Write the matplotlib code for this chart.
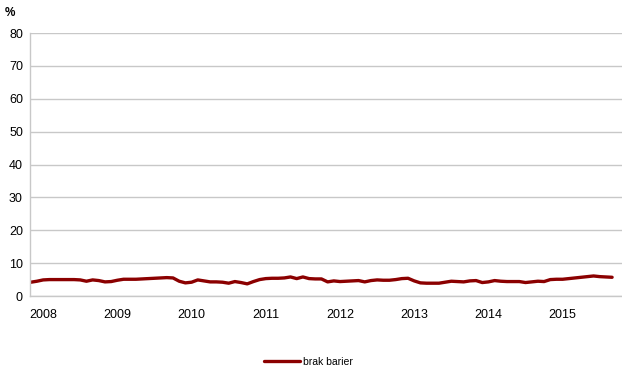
import numpy as np
import matplotlib
matplotlib.use("Agg")
import matplotlib.pyplot as plt

plt.rcParams['font.family'] = ['Liberation Sans', 'DejaVu Sans']

# monthly values
brak_barier = [4.2, 4.5, 4.9, 5.0, 5.0, 5.0, 5.0, 5.0, 4.9, 4.5, 4.9, 4.7,
               4.3, 4.4, 4.8, 5.1, 5.1, 5.1, 5.2, 5.3, 5.4, 5.5, 5.6, 5.5,
               4.5, 4.0, 4.2, 4.9, 4.6, 4.3, 4.3, 4.2, 3.9, 4.4, 4.1, 3.7,
               4.4, 5.0, 5.3, 5.4, 5.4, 5.5, 5.8, 5.3, 5.8, 5.3, 5.2, 5.2,
               4.3, 4.6, 4.4, 4.5, 4.6, 4.7, 4.3, 4.7, 4.9, 4.8, 4.8, 5.0,
               5.3, 5.4, 4.6, 4.0, 3.9, 3.9, 3.9, 4.2, 4.5, 4.4, 4.3, 4.6,
               4.7, 4.1, 4.3, 4.7, 4.5, 4.4, 4.4, 4.4, 4.1, 4.3, 4.5, 4.4,
               5.0, 5.1, 5.1, 5.3, 5.5, 5.7, 5.9, 6.1, 5.9, 5.8, 5.7]
year_labels = ['2008', '2009', '2010', '2011', '2012', '2013', '2014', '2015']
year_pos = [2 + 12 * k for k in range(len(year_labels))]
y_ticks = [0, 10, 20, 30, 40, 50, 60, 70, 80]

fig = plt.figure(figsize=(6.22, 3.8), dpi=100)
ax = fig.add_axes([0.048, 0.221, 0.952, 0.692])

x = np.arange(len(brak_barier))
ax.plot(x, brak_barier, color='#8b0000', linewidth=2.4, label='brak barier',
        solid_capstyle='round')

ax.set_ylim(0, 80)
ax.set_xlim(-0.15, 95.6)
ax.set_yticks(y_ticks)
ax.set_xticks(year_pos)
ax.set_xticklabels(year_labels)
ax.yaxis.grid(True, color='#c8c8c8', linewidth=1)
ax.set_axisbelow(True)
ax.tick_params(length=0, labelsize=9, colors='black')
ax.tick_params(axis='y', pad=5)
ax.tick_params(axis='x', pad=9)
for s in ['top', 'right']:
    ax.spines[s].set_visible(False)
for s in ['left', 'bottom']:
    ax.spines[s].set_color('#c8c8c8')
    ax.spines[s].set_linewidth(1)

fig.text(0.008, 0.965, '%', fontsize=8.5, fontweight='bold', va='center')

fig.legend(loc='center', bbox_to_anchor=(0.496, 0.047), frameon=False,
           fontsize=7.5, handlelength=3.5, handletextpad=0.3)

fig.savefig('out.png', dpi=100)
